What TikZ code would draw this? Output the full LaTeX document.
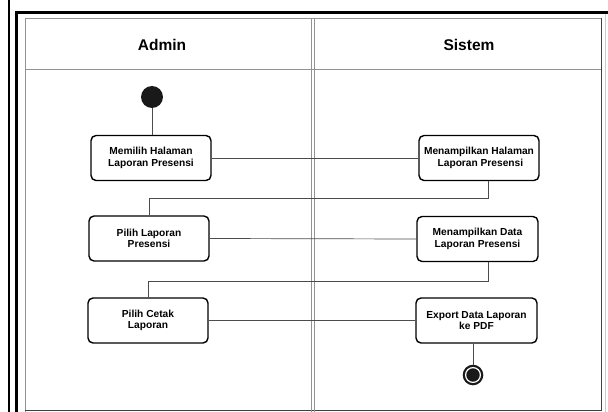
\documentclass[tikz,border=0pt]{standalone}
\usepackage{fontspec}
\setmainfont{Liberation Sans}
\begin{document}
\begin{tikzpicture}[x=1pt,y=-1pt,
  act/.style={draw=black,line width=1.4pt,rounded corners=5pt,fill=white,
    minimum width=120pt,minimum height=45pt,align=center,inner sep=1pt,
    font=\fontsize{10.2}{11.5}\selectfont\bfseries},
  lane/.style={draw=gray!85,line width=1pt},
  conn/.style={draw=black!70,line width=0.7pt},
  hdr/.style={font=\fontsize{15.5}{18}\selectfont\bfseries}]
\useasboundingbox (0,0) rectangle (608,412);
\fill[white] (0,0) rectangle (608,412);
% outer frame lines
\draw[line width=2.6pt] (9,0) -- (9,412);
\draw[line width=2.6pt] (16.5,412) -- (16.5,12.5) -- (608,12.5);
% swimlane box
\draw[lane] (25,412) -- (25,18.5) -- (601,18.5);
\draw[draw=black!75,line width=1pt] (601,18.5) -- (601,410.5) -- (25,410.5);
\draw[draw=gray!40,line width=0.8pt] (605,14) -- (605,412);
\draw[lane] (311.5,18.5) -- (311.5,412);
\draw[lane] (314.5,18.5) -- (314.5,412);
\draw[lane] (25,70) -- (601,70);
\node[hdr] (hA) at (162,45) {Admin};
\node[hdr] (hS) at (469,45) {Sistem};
% nodes
\node[circle,fill=black!90,minimum size=22pt,inner sep=0pt] (start) at (152,97) {};
\node[act] (b1) at (151,158) {Memilih Halaman\\Laporan Presensi};
\node[act] (b2) at (149,238.5) {Pilih Laporan\\Presensi};
\node[act] (b3) at (148,320.5) {Pilih Cetak\\Laporan};
\node[act,minimum width=120pt] (r1) at (479,158) {Menampilkan Halaman\\\ Laporan Presensi};
\node[act,minimum width=121pt] (r2) at (477.5,239) {Menampilkan Data\\Laporan Presensi};
\node[act,minimum width=121pt] (r3) at (476.5,320.5) {Export Data Laporan\\ke PDF};
\node[circle,fill=black!90,minimum size=20.6pt,inner sep=0pt] (end) at (473,375) {};
\draw[white,line width=1.2pt] (end.center) circle (7.4pt);
% connectors
\draw[conn] (start.south) -- (start |- b1.north);
\draw[conn] (b1.east) -- (r1.west);
\draw[conn] ([xshift=9pt]r1.south) -- ++(0,17) -| (b2.north);
\draw[conn] (b2.east) -- (r2.west);
\draw[conn] ([xshift=10.5pt]r2.south) -- ++(0,19) -| (b3.north);
\draw[conn] (b3.east) -- (r3.west);
\draw[conn] ([xshift=-3.5pt]r3.south) -- (end.north);
\end{tikzpicture}
\end{document}
